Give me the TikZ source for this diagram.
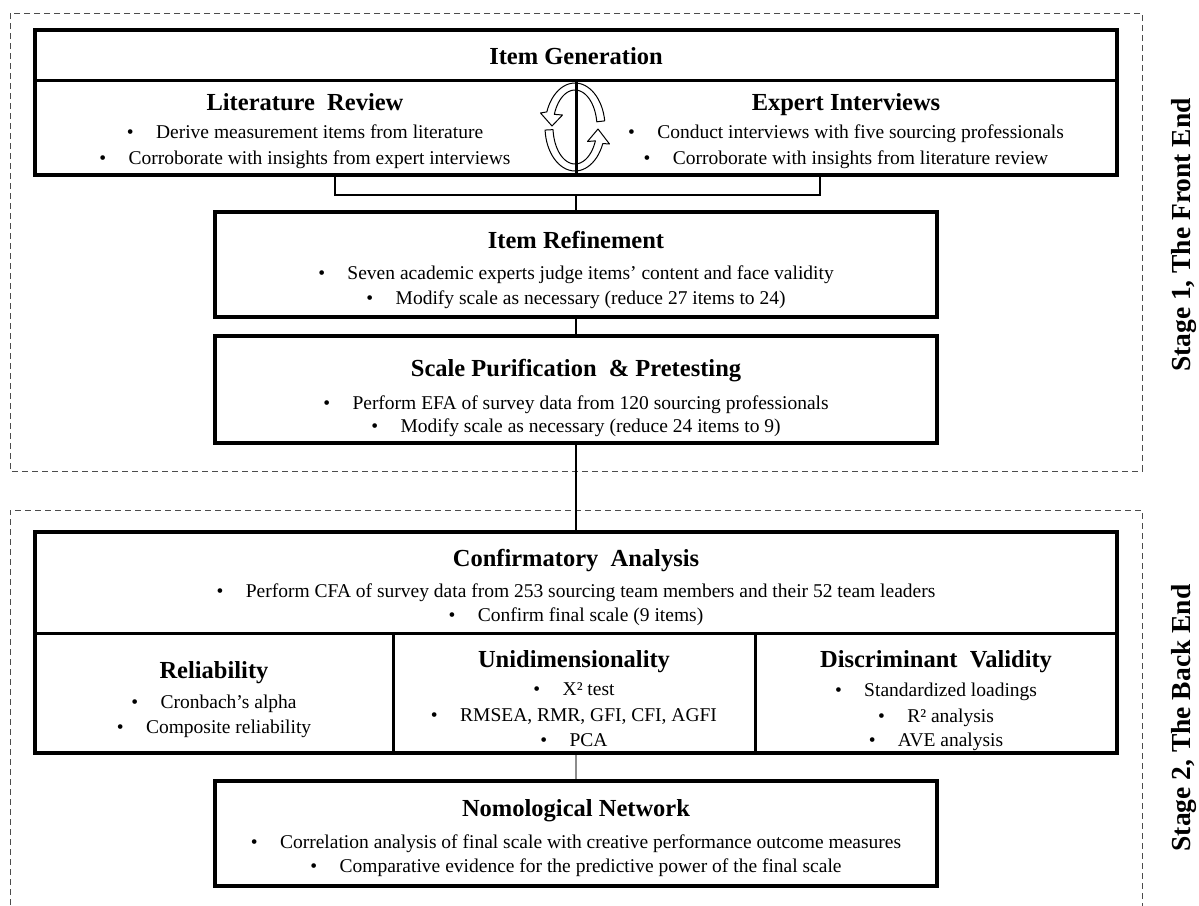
\documentclass[tikz,border=0pt]{standalone}
\usepackage{fontspec}
\setmainfont{Liberation Serif}
\newcommand{\bul}{\makebox[1.5em][l]{•}}
\begin{document}
\begin{tikzpicture}[x=1pt,y=-1pt,
  box/.style={draw, line width=4pt, inner sep=0pt},
  sepline/.style={line width=3pt},
  conn/.style={line width=1.4pt},
  conng/.style={line width=1.6pt, draw=black!45},
  dashbox/.style={draw=black!70, line width=1pt, dash pattern=on 6pt off 4pt},
  ttl/.style={inner sep=0pt, text height=16pt, text depth=0pt, font=\fontsize{24.5}{28}\selectfont\bfseries},
  txt/.style={inner sep=0pt, text height=13pt, text depth=0pt, font=\fontsize{19.5}{24}\selectfont},
  stg/.style={inner sep=0pt, text height=18pt, text depth=0pt, rotate=90, font=\fontsize{27.5}{30}\selectfont\bfseries},
  carrow/.style={draw=black, fill=white, line width=1pt, line join=round}]
\useasboundingbox (0,0) rectangle (1199,905);

% dashed stage frames
\draw[dashbox] (10,13) rectangle (1142,471);
\draw[dashbox] (10,915) -- (10,510) -- (1142,510) -- (1142,915);

% boxes
\node[box, minimum width=1082pt, minimum height=145pt] (gen) at (576,102.5) {};
\node[box, minimum width=722pt, minimum height=105pt] (ref) at (576,264.5) {};
\node[box, minimum width=722pt, minimum height=107pt] (pur) at (576,389.5) {};
\node[box, minimum width=1082pt, minimum height=221pt] (cfa) at (576,642.5) {};
\node[box, minimum width=722pt, minimum height=105pt] (nom) at (576,833) {};

% internal dividers
\draw[sepline] (35,80) -- (1117,80);
\draw[sepline] (35,633) -- (1117,633);
\draw[sepline] (393,633) -- (393,753);
\draw[sepline] (755,633) -- (755,753);

% circular arrows
\draw[carrow] plot[domain=0:1, samples=30] ({575+30*cos(-8-152*\x)}, {127+44*sin(-8-152*\x)})
  -- (540.5,113) -- (552,126) -- (562.5,115)
  -- plot[domain=0:1, samples=30] ({575+22*cos(-160+152*\x)}, {127+37*sin(-160+152*\x)}) -- cycle;
\draw[carrow] plot[domain=0:1, samples=30] ({575+30*cos(176-154*\x)}, {127+44*sin(176-154*\x)})
  -- (609.5,144) -- (598,129) -- (587.5,141.5)
  -- plot[domain=0:1, samples=30] ({575+22*cos(22+154*\x)}, {127+37*sin(22+154*\x)}) -- cycle;
\draw[sepline] (576,80) -- (576,175);

% connectors
\coordinate (litb) at (335,175);
\coordinate (expb) at (820,175);
\coordinate (brk) at (576,195);
\draw[conn] (litb) -- (335,195) -- (820,195) -- (expb);
\draw[conn] (brk) -- (ref.north);
\draw[conn] (ref.south) -- (pur.north);
\draw[conn] (pur.south) -- (cfa.north);
\draw[conng] (cfa.south) -- (nom.north);

% texts: item generation
\node[ttl] (t-gen) at (576,56) {Item Generation};
\node[ttl] (t-lit) at (305,102) {Literature\ \ Review};
\node[txt] (lit1) at (305,132) {\bul Derive measurement items from literature};
\node[txt] (lit2) at (305,158) {\bul Corroborate with insights from expert interviews};
\node[ttl] (t-exp) at (846,102) {Expert Interviews};
\node[txt] (exp1) at (846,132) {\bul Conduct interviews with five sourcing professionals};
\node[txt] (exp2) at (846,158) {\bul Corroborate with insights from literature review};

% item refinement
\node[ttl] (t-ref) at (576,240) {Item Refinement};
\node[txt] (ref1) at (576,273) {\bul Seven academic experts judge items’ content and face validity};
\node[txt] (ref2) at (576,298) {\bul Modify scale as necessary (reduce 27 items to 24)};

% purification
\node[ttl] (t-pur) at (576,368) {Scale Purification\ \ \& Pretesting};
\node[txt] (pur1) at (576,403) {\bul Perform EFA of survey data from 120 sourcing professionals};
\node[txt] (pur2) at (576,426) {\bul Modify scale as necessary (reduce 24 items to 9)};

% confirmatory
\node[ttl] (t-cfa) at (576,558) {Confirmatory\ \ Analysis};
\node[txt] (cfa1) at (576,591) {\bul Perform CFA of survey data from 253 sourcing team members and their 52 team leaders};
\node[txt] (cfa2) at (576,615) {\bul Confirm final scale (9 items)};

\node[ttl] (t-rel) at (214,670) {Reliability};
\node[txt] (rel1) at (214,702) {\bul Cronbach’s alpha};
\node[txt] (rel2) at (214,727) {\bul Composite reliability};

\node[ttl] (t-uni) at (574,659) {Unidimensionality};
\node[txt] (uni1) at (574,689) {\bul X² test};
\node[txt] (uni2) at (574,715) {\bul RMSEA, RMR, GFI, CFI, AGFI};
\node[txt] (uni3) at (574,740) {\bul PCA};

\node[ttl] (t-dis) at (936,659) {Discriminant\ \ Validity};
\node[txt] (dis1) at (936,690) {\bul Standardized loadings};
\node[txt] (dis2) at (936,716) {\bul R² analysis};
\node[txt] (dis3) at (936,740) {\bul AVE analysis};

% nomological
\node[ttl] (t-nom) at (576,808) {Nomological Network};
\node[txt] (nom1) at (576,842) {\bul Correlation analysis of final scale with creative performance outcome measures};
\node[txt] (nom2) at (576,866) {\bul Comparative evidence for the predictive power of the final scale};

% stage labels
\node[stg] (s1) at (1181,235) {Stage 1, The Front End};
\node[stg] (s2) at (1181,718) {Stage 2, The Back End};
\end{tikzpicture}
\end{document}
